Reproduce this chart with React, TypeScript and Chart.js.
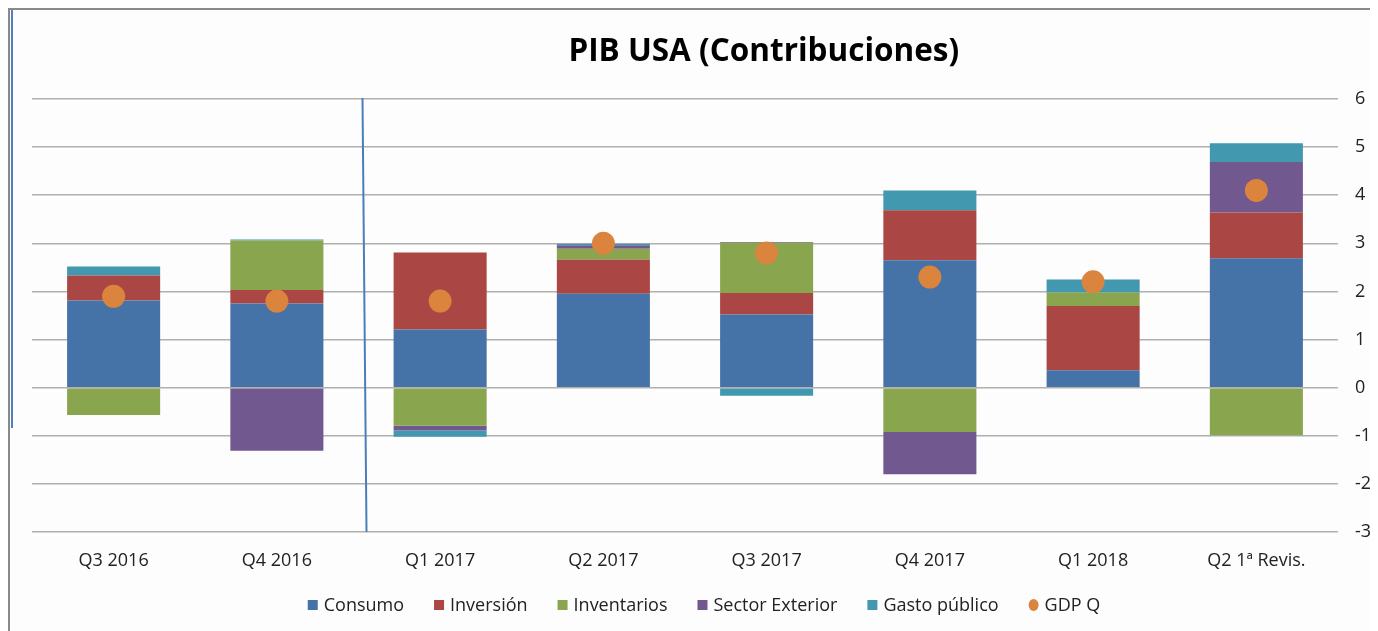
import React, { useEffect, useRef } from "react";
import { Chart, registerables } from "chart.js";

Chart.register(...registerables);

const categories = ["Q3 2016", "Q4 2016", "Q1 2017", "Q2 2017", "Q3 2017", "Q4 2017", "Q1 2018", "Q2 1ª Revis."];
const consumo = [1.81, 1.75, 1.21, 1.95, 1.52, 2.65, 0.36, 2.69];
const inversion = [0.52, 0.28, 1.6, 0.71, 0.45, 1.04, 1.34, 0.95];
const inventarios = [-0.57, 1.03, -0.79, 0.23, 1.04, -0.92, 0.28, -0.99];
const sectorExterior = [0, -1.31, -0.1, 0.07, 0.02, -0.88, 0, 1.05];
const gastoPublico = [0.19, 0.02, -0.13, 0.03, -0.17, 0.41, 0.27, 0.39];
const gdpQ = [1.9, 1.8, 1.8, 3.0, 2.8, 2.3, 2.2, 4.1];
const yTicks = [-3, -2, -1, 0, 1, 2, 3, 4, 5, 6];

const FONT = "'Open Sans', 'Noto Sans', sans-serif";

const overlayPlugin = {
  id: "overlay",
  afterDraw(chart: any) {
    const ctx = chart.ctx;
    const xs = chart.scales.x;
    const area = chart.chartArea;
    ctx.save();
    // title
    ctx.font = `bold 31.5px ${FONT}`;
    ctx.fillStyle = "#000";
    ctx.textAlign = "center";
    ctx.textBaseline = "middle";
    ctx.fillText("PIB USA (Contribuciones)", chart.width * 0.551, 42);
    // separator line
    const mid = (xs.getPixelForValue(1) + xs.getPixelForValue(2)) / 2;
    ctx.strokeStyle = "#4a7ebb";
    ctx.lineWidth = 2;
    ctx.beginPath();
    ctx.moveTo(mid + 4, area.top - 1);
    ctx.lineTo(mid + 8, area.bottom);
    ctx.stroke();
    // legend
    ctx.font = `18px ${FONT}`;
    ctx.textAlign = "left";
    const items = chart.data.datasets.map((d: any) => ({
      label: d.label,
      color: d.backgroundColor,
      circle: d.type === "line",
      w: 16 + ctx.measureText(d.label).width,
    }));
    const gap = 30;
    const total = items.reduce((s: number, it: any) => s + it.w, 0) + gap * (items.length - 1);
    let x = chart.width * 0.5073 - total / 2;
    const y = 595;
    for (const it of items) {
      ctx.fillStyle = it.color;
      if (it.circle) {
        ctx.beginPath();
        ctx.ellipse(x + 5, y, 5, 6, 0, 0, Math.PI * 2);
        ctx.fill();
      } else {
        ctx.fillRect(x, y - 5, 10, 10);
      }
      ctx.fillStyle = "#222";
      ctx.fillText(it.label, x + 16, y + 1);
      x += it.w + gap;
    }
    ctx.restore();
  },
};

export default function App() {
  const ref = useRef<HTMLCanvasElement>(null);
  useEffect(() => {
    if (!ref.current) return;
    const bar = (label: string, data: number[], color: string) => ({
      type: "bar" as const,
      label,
      data,
      backgroundColor: color,
      borderWidth: 0,
      order: 1,
      stack: "s",
      categoryPercentage: 1,
      barPercentage: 0.57,
    });
    const chart = new Chart(ref.current, {
      type: "bar",
      data: {
        labels: categories,
        datasets: [
          bar("Consumo", consumo, "#4572a7"),
          bar("Inversión", inversion, "#aa4643"),
          bar("Inventarios", inventarios, "#89a54e"),
          bar("Sector Exterior", sectorExterior, "#71588f"),
          bar("Gasto público", gastoPublico, "#4198af"),
          {
            type: "line" as const,
            label: "GDP Q",
            data: gdpQ,
            showLine: false,
            pointRadius: 11.5,
            pointHoverRadius: 11.5,
            pointStyle: "circle",
            backgroundColor: "#db843d",
            borderColor: "#db843d",
            borderWidth: 0,
            order: -1,
            stack: "gdp",
          } as any,
        ],
      },
      options: {
        animation: false,
        responsive: false,
        maintainAspectRatio: false,
        layout: { padding: { top: 89, left: 22, right: 0, bottom: 59 } },
        plugins: {
          title: { display: false },
          tooltip: { enabled: false },
          legend: { display: false },
        },
        scales: {
          x: {
            stacked: true,
            grid: { display: false, drawTicks: false },
            border: { display: false },
            ticks: { color: "#222", font: { family: FONT, size: 18 }, padding: 18 },
            afterFit: (s: any) => {
              s.height = 40;
            },
          },
          y: {
            stacked: true,
            position: "right",
            min: -3,
            max: 6,
            afterBuildTicks: (s: any) => {
              s.ticks = yTicks.map((v) => ({ value: v }));
            },
            afterFit: (s: any) => {
              s.width = 40;
            },
            grid: { color: "#b0b0b0", lineWidth: 1.5, drawTicks: false },
            border: { display: false },
            ticks: { color: "#222", font: { family: FONT, size: 18 }, padding: 17 },
          },
        },
      },
      plugins: [overlayPlugin],
    });
    return () => chart.destroy();
  }, []);

  return (
    <div
      style={{
        position: "relative",
        width: 1368,
        height: 621,
        borderTop: "2px solid #8a8a8a",
        borderLeft: "2px solid #8a8a8a",
        background: "#fdfdfd",
      }}
    >
      <div style={{ position: "absolute", left: 1, top: 0, width: 2, height: 418, background: "#4f81bd" }} />
      <canvas ref={ref} width={1368} height={621} style={{ display: "block" }} />
    </div>
  );
}
